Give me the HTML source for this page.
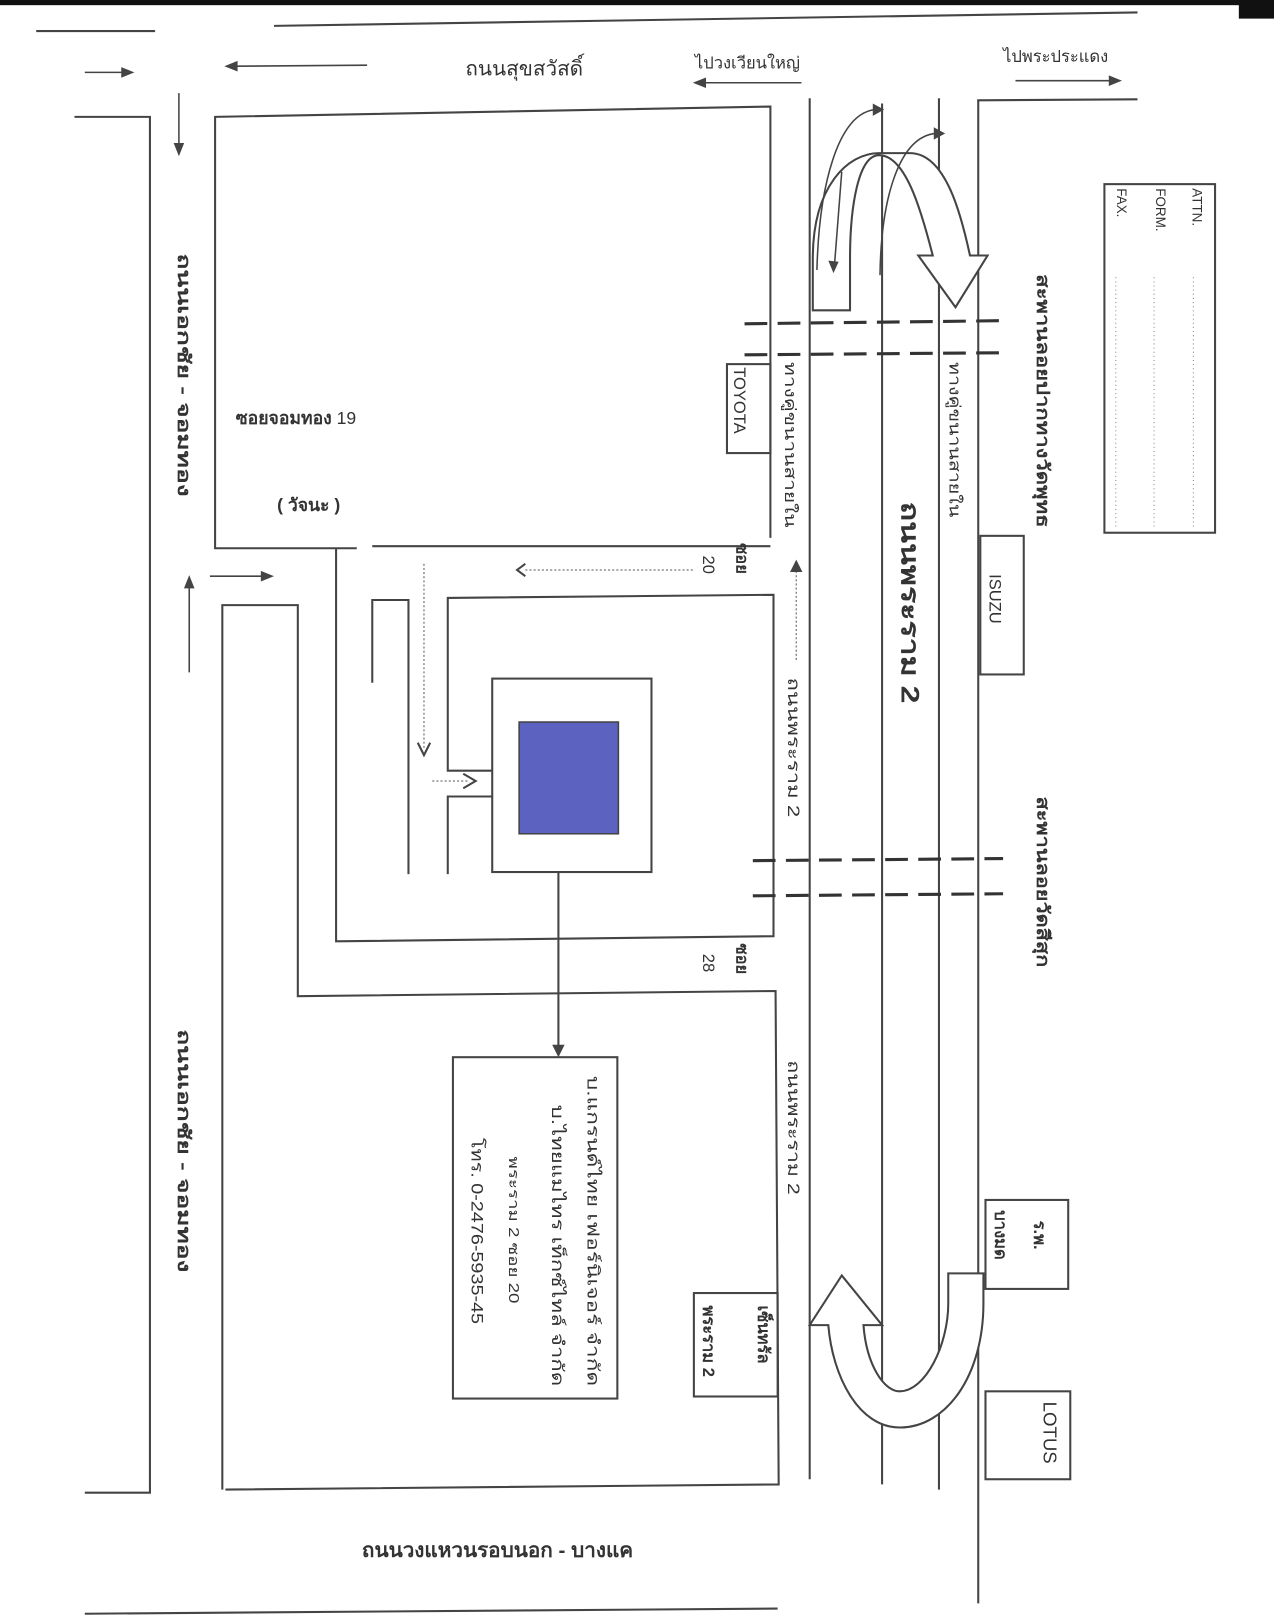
<!DOCTYPE html>
<html><head><meta charset="utf-8"><style>
html,body{margin:0;padding:0;background:#fff;}
svg{display:block;}
text{font-family:"Liberation Sans","Noto Sans CJK SC",sans-serif;fill:#333;}
</style></head><body>
<svg width="1274" height="1622" viewBox="0 0 1232 1568" preserveAspectRatio="none" xmlns="http://www.w3.org/2000/svg">
<rect x="0" y="0" width="1200" height="5" fill="#111"/>
<rect x="1198" y="0" width="34" height="18" fill="#111"/>
<g stroke="#444" stroke-width="2" fill="none">
<line x1="265" y1="25" x2="1100" y2="12"/>
<line x1="35" y1="30" x2="150" y2="30"/>
<line x1="945" y1="97" x2="1100" y2="96"/>
<polyline points="72,113 145,113 145,1443 82,1443"/>
<polyline points="345,530 208,530 208,113 745,103 745,520"/>
<line x1="360" y1="528" x2="745" y2="528"/>
<polyline points="325,530 325,910 748,905 748,575 433,578 433,745 476,745"/>
<polyline points="476,770 433,770 433,845"/>
<polyline points="360,660 360,580 395,580 395,845"/>
<polyline points="215,1440 215,585 288,585 288,963 750,958 753,1435 218,1440"/>
<line x1="783" y1="95" x2="783" y2="1430"/>
<line x1="853" y1="100" x2="853" y2="1435"/>
<line x1="908" y1="95" x2="908" y2="1440"/>
<line x1="946" y1="97" x2="946" y2="1550"/>
<line x1="82" y1="1560" x2="752" y2="1555"/>
<rect x="476" y="656" width="154" height="187"/>
<line x1="540" y1="843" x2="540" y2="1018"/>
<rect x="703" y="352" width="42" height="86"/>
<rect x="948" y="518" width="42" height="134"/>
<rect x="953" y="1160" width="80" height="86"/>
<rect x="953" y="1345" width="82" height="85"/>
<rect x="671" y="1250" width="81" height="100"/>
<rect x="438" y="1022" width="159" height="330"/>
<rect x="1068" y="178" width="107" height="337"/>
</g>
<rect x="502" y="698" width="96" height="108" fill="#5b62c0" stroke="#444" stroke-width="1.5"/>
<polygon points="534,1010 546,1010 540,1022" fill="#444"/>
<g stroke="#333" stroke-width="3" stroke-dasharray="22,10">
<line x1="720" y1="313" x2="970" y2="310"/>
<line x1="720" y1="343" x2="970" y2="341"/>
<line x1="728" y1="832" x2="970" y2="830"/>
<line x1="728" y1="866" x2="970" y2="864"/>
</g>
<g stroke="#444" stroke-width="1.5" fill="#444">
<line x1="82" y1="70" x2="122" y2="70"/><polygon points="128,70 118,66 118,74"/>
<line x1="226" y1="64" x2="355" y2="63"/><polygon points="219,64 229,60 229,68"/>
<line x1="680" y1="80" x2="775" y2="80"/><polygon points="672,80 682,76 682,84"/>
<line x1="982" y1="78" x2="1076" y2="78"/><polygon points="1083,78 1073,74 1073,82"/>
<line x1="173" y1="90" x2="173" y2="142"/><polygon points="173,149 169,139 177,139"/>
<line x1="183" y1="566" x2="183" y2="650"/><polygon points="183,558 179,568 187,568"/>
<line x1="203" y1="557" x2="256" y2="557"/><polygon points="263,557 253,553 253,561"/>
</g>
<g stroke="#777" stroke-width="1.2" stroke-dasharray="2,2" fill="none">
<line x1="508" y1="551" x2="670" y2="551"/>
<line x1="410" y1="545" x2="410" y2="725"/>
<line x1="418" y1="755" x2="452" y2="755"/>
<line x1="770" y1="552" x2="770" y2="640"/>
</g>
<g stroke="#444" stroke-width="2" fill="none">
<polyline points="508,545 500,551 508,557"/>
<polyline points="404,718 410,730 416,718"/>
<polyline points="448,748 460,755 448,762"/>
</g>
<polygon points="770,541 764,553 776,553" fill="#444"/>
<g stroke="#444" stroke-width="2" fill="#fff">
<path d="M786,300 L786,250 C786,180 820,148 850,148 L880,148 C915,148 930,210 938,247 L955,247 L924,297 L888,247 L902,247 C890,200 875,150 850,150 C830,150 822,200 822,250 L822,300 Z"/>
</g>
<g stroke="#444" stroke-width="1.5" fill="none">
<path d="M790,261 C792,180 810,110 846,106"/>
<path d="M851,266 C852,190 870,132 905,129"/>
<path d="M814,166 L807,256"/>
</g>
<g fill="#444">
<polygon points="855,106 844,100 844,112"/>
<polygon points="914,129 903,123 903,135"/>
<polygon points="806,264 801,252 811,253"/>
</g>
<path d="M814,1233 L853,1281 L835,1281 C838,1320 855,1345 870,1345 C895,1345 917,1300 917,1260 L917,1231 L951,1231 L951,1260 C951,1330 915,1380 870,1380 C830,1380 805,1330 801,1281 L783,1281 Z" stroke="#444" stroke-width="2" fill="#fff"/>
<g font-size="20" font-weight="bold">
<text x="450" y="73" font-weight="normal">ถนนสุขสวัสดิ์</text>
<text x="350" y="1505">ถนนวงแหวนรอบนอก - บางแค</text>
<text x="228" y="410" font-size="17">ซอยจอมทอง  <tspan font-weight="normal">19</tspan></text>
<text x="268" y="494" font-size="17">( วัจนะ )</text>
</g>
<text x="672" y="66" font-size="16">ไปวงเวียนใหญ่</text>
<text x="970" y="60" font-size="16">ไปพระประแดง</text>
<g font-size="17" font-weight="bold">
<text transform="translate(172,245) rotate(90)" textLength="235" lengthAdjust="spacingAndGlyphs">ถนนเอกชัย - จอมทอง</text>
<text transform="translate(172,995) rotate(90)" textLength="235" lengthAdjust="spacingAndGlyphs">ถนนเอกชัย - จอมทอง</text>
<text transform="translate(872,485) rotate(90)" font-size="24" textLength="195" lengthAdjust="spacingAndGlyphs">ถนนพระราม 2</text>
<text transform="translate(1003,265) rotate(90)" textLength="245" lengthAdjust="spacingAndGlyphs">สะพานลอยปากทางวัดพุทธ</text>
<text transform="translate(1003,770) rotate(90)" textLength="165" lengthAdjust="spacingAndGlyphs">สะพานลอยวัดสีสุก</text>
<text transform="translate(712,525) rotate(90)" font-size="16">ซอย</text>
<text transform="translate(712,912) rotate(90)" font-size="16">ซอย</text>
<text transform="translate(962,1170) rotate(90)" font-size="16">บางมด</text>
<text transform="translate(1000,1180) rotate(90)" font-size="16">ร.พ.</text>
<text transform="translate(733,1262) rotate(90)" font-size="16">เซ็นทรัล</text>
<text transform="translate(680,1262) rotate(90)" font-size="16">พระราม 2</text>
</g>
<g font-size="16">
<text transform="translate(680,537) rotate(90)">20</text>
<text transform="translate(680,922) rotate(90)">28</text>
<text transform="translate(762,655) rotate(90)" textLength="135" lengthAdjust="spacingAndGlyphs">ถนนพระราม 2</text>
<text transform="translate(762,1025) rotate(90)" textLength="130" lengthAdjust="spacingAndGlyphs">ถนนพระราม 2</text>
<text transform="translate(759,350) rotate(90)" font-size="15" textLength="160" lengthAdjust="spacingAndGlyphs">ทางคู่ขนานสายใน</text>
<text transform="translate(918,350) rotate(90)" font-size="15" textLength="150" lengthAdjust="spacingAndGlyphs">ทางคู่ขนานสายใน</text>
<text transform="translate(710,355) rotate(90)">TOYOTA</text>
<text transform="translate(957,555) rotate(90)">ISUZU</text>
<text transform="translate(1009,1355) rotate(90)" font-size="18">LOTUS</text>
<text transform="translate(568,1040) rotate(90)" textLength="300" lengthAdjust="spacingAndGlyphs">บ.แกรนด์ไทย เฟอร์นิเจอร์ จำกัด</text>
<text transform="translate(534,1068) rotate(90)" fill="#4a4ab0" textLength="272" lengthAdjust="spacingAndGlyphs">บ.ไทยแมไทร เท็กซ์ไทล์ จำกัด</text>
<text transform="translate(492,1118) rotate(90)" font-size="14" textLength="142" lengthAdjust="spacingAndGlyphs">พระราม 2 ซอย 20</text>
<text transform="translate(456,1100) rotate(90)" fill="#4a4ab0" textLength="180" lengthAdjust="spacingAndGlyphs">โทร. 0-2476-5935-45</text>
<text transform="translate(1153,182) rotate(90)" font-size="13">ATTN.</text>
<text transform="translate(1118,182) rotate(90)" font-size="13">FORM.</text>
<text transform="translate(1080,182) rotate(90)" font-size="13">FAX.</text>
</g>
<g stroke="#888" stroke-width="1" stroke-dasharray="1,3">
<line x1="1154" y1="268" x2="1154" y2="510"/>
<line x1="1116" y1="268" x2="1116" y2="510"/>
<line x1="1079" y1="268" x2="1079" y2="510"/>
</g>
</svg>
</body></html>
